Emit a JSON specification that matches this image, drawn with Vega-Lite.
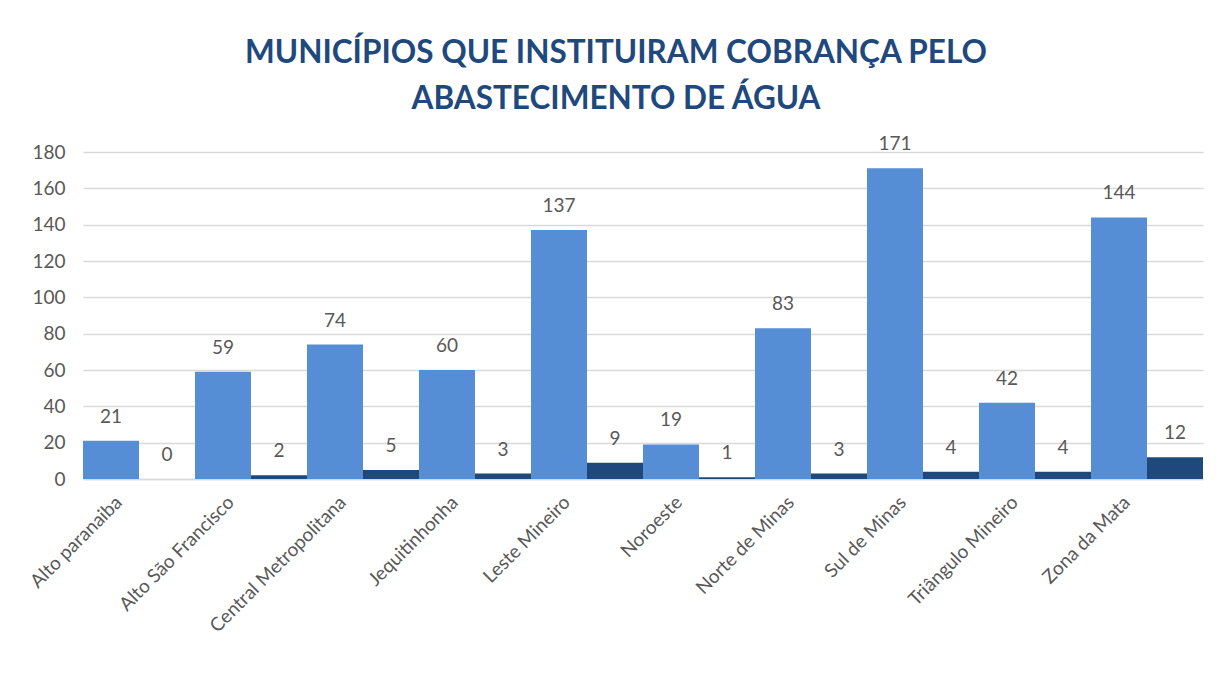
{
  "$schema": "https://vega.github.io/schema/vega-lite/v6.json",
  "width": 1120,
  "height": 327,
  "autosize": "none",
  "padding": {"left": 83, "top": 152, "right": 17, "bottom": 196},
  "background": "white",
  "title": {
    "text": ["MUNICÍPIOS QUE INSTITUIRAM COBRANÇA PELO", "ABASTECIMENTO DE ÁGUA"],
    "font": "Lato",
    "fontSize": 31.5,
    "fontWeight": "bold",
    "color": "#1F497D",
    "anchor": "middle",
    "dx": -27,
    "offset": 20,
    "lineHeight": 46
  },
  "data": {
    "values": [
      {"regiao": "Alto paranaiba", "serie": "Total", "valor": 21},
      {"regiao": "Alto paranaiba", "serie": "Cobrança", "valor": 0},
      {"regiao": "Alto São Francisco", "serie": "Total", "valor": 59},
      {"regiao": "Alto São Francisco", "serie": "Cobrança", "valor": 2},
      {"regiao": "Central Metropolitana", "serie": "Total", "valor": 74},
      {"regiao": "Central Metropolitana", "serie": "Cobrança", "valor": 5},
      {"regiao": "Jequitinhonha", "serie": "Total", "valor": 60},
      {"regiao": "Jequitinhonha", "serie": "Cobrança", "valor": 3},
      {"regiao": "Leste Mineiro", "serie": "Total", "valor": 137},
      {"regiao": "Leste Mineiro", "serie": "Cobrança", "valor": 9},
      {"regiao": "Noroeste", "serie": "Total", "valor": 19},
      {"regiao": "Noroeste", "serie": "Cobrança", "valor": 1},
      {"regiao": "Norte de Minas", "serie": "Total", "valor": 83},
      {"regiao": "Norte de Minas", "serie": "Cobrança", "valor": 3},
      {"regiao": "Sul de Minas", "serie": "Total", "valor": 171},
      {"regiao": "Sul de Minas", "serie": "Cobrança", "valor": 4},
      {"regiao": "Triângulo Mineiro", "serie": "Total", "valor": 42},
      {"regiao": "Triângulo Mineiro", "serie": "Cobrança", "valor": 4},
      {"regiao": "Zona da Mata", "serie": "Total", "valor": 144},
      {"regiao": "Zona da Mata", "serie": "Cobrança", "valor": 12}
    ]
  },
  "encoding": {
    "x": {
      "field": "regiao",
      "type": "nominal",
      "sort": null,
      "scale": {"paddingInner": 0, "paddingOuter": 0},
      "axis": {
        "title": null,
        "labelAngle": -45,
        "labelAlign": "right",
        "labelBaseline": "middle",
        "labelFont": "Lato",
        "labelFontSize": 19,
        "labelColor": "#595959",
        "labelPadding": 20,
        "labelOffset": -20,
        "labelLimit": 400,
        "ticks": false,
        "domainColor": "#D9D9D9",
        "domainWidth": 1.5,
        "grid": false
      }
    },
    "xOffset": {"field": "serie", "type": "nominal", "sort": ["Total", "Cobrança"], "scale": {"paddingInner": 0, "paddingOuter": 0}},
    "y": {
      "field": "valor",
      "type": "quantitative",
      "scale": {"domain": [0, 180]},
      "axis": {
        "title": null,
        "values": [0, 20, 40, 60, 80, 100, 120, 140, 160, 180],
        "labelFont": "Lato",
        "labelFontSize": 19,
        "labelColor": "#595959",
        "labelPadding": 18,
        "ticks": false,
        "domain": false,
        "grid": true,
        "gridColor": "#D9D9D9",
        "gridWidth": 1.5
      }
    }
  },
  "layer": [
    {
      "mark": {"type": "bar"},
      "encoding": {
        "color": {
          "field": "serie",
          "type": "nominal",
          "scale": {"domain": ["Total", "Cobrança"], "range": ["#558ED5", "#1F497D"]},
          "legend": null
        }
      }
    },
    {
      "mark": {"type": "text", "baseline": "bottom", "dy": -14, "font": "Lato", "fontSize": 19, "color": "#595959"},
      "encoding": {
        "text": {"field": "valor", "type": "quantitative"}
      }
    }
  ],
  "config": {"view": {"stroke": null}}
}
